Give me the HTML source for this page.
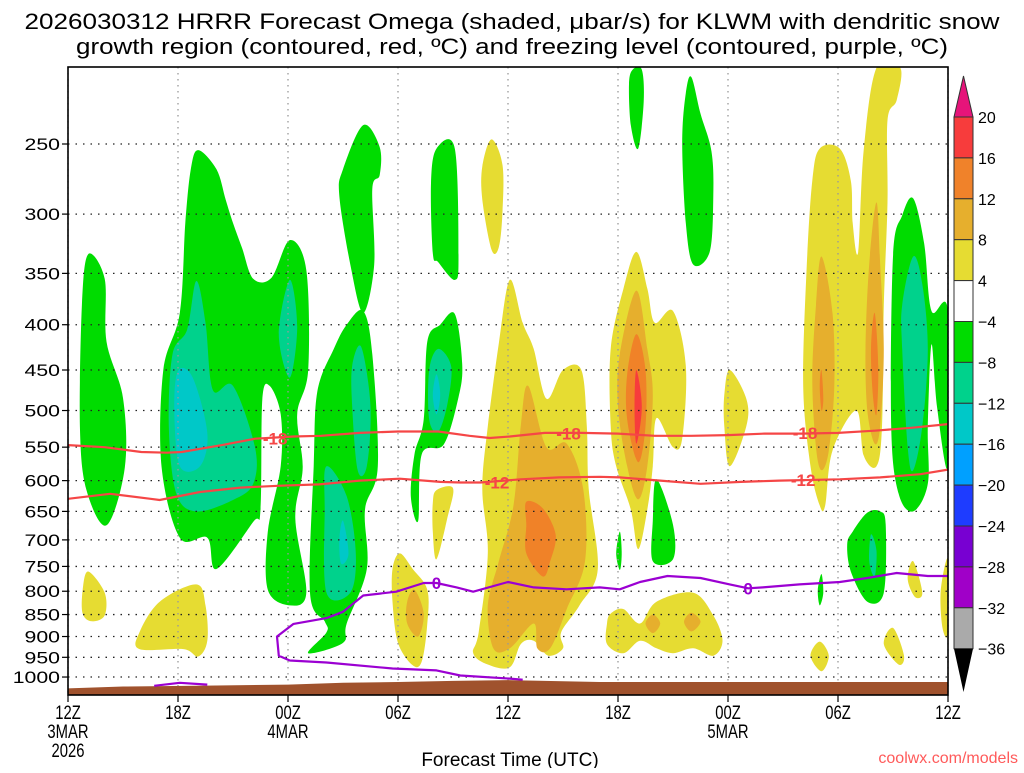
<!DOCTYPE html>
<html><head><meta charset="utf-8">
<style>
html,body{margin:0;padding:0;background:#fff;}
body{width:1024px;height:768px;overflow:hidden;font-family:"Liberation Sans",sans-serif;}
svg text{font-family:"Liberation Sans",sans-serif;}
</style></head>
<body>
<svg id="chart" width="1024" height="768" viewBox="0 0 1024 768" xmlns="http://www.w3.org/2000/svg">
<g id="title">
<text x="512" y="29" text-anchor="middle" font-size="22" fill="#000" textLength="975" lengthAdjust="spacingAndGlyphs">2026030312 HRRR Forecast Omega (shaded, μbar/s) for KLWM with dendritic snow</text>
<text x="512" y="54" text-anchor="middle" font-size="22" fill="#000" textLength="872" lengthAdjust="spacingAndGlyphs">growth region (contoured, red, ºC) and freezing level (contoured, purple, ºC)</text>
</g>
<g id="fills"></g>
<g id="grid"></g>
<g id="terrain"></g>
<g id="lines"></g>
<g id="axes"></g>
<g id="cbar"></g>
<text x="510" y="766" text-anchor="middle" font-size="19" fill="#000">Forecast Time (UTC)</text>
<text x="1018" y="763" text-anchor="end" font-size="16" fill="#ff5a5a">coolwx.com/models</text>
</svg>
<script>
// ---- data ----
const xTickHours = [0,6,12,18,24,30,36,42,48];
const xTickLabels = ["12Z","18Z","00Z","06Z","12Z","18Z","00Z","06Z","12Z"];
const xDateLabels = ["3MAR","","4MAR","","","","5MAR","",""];
const pressureTicks = [250,300,350,400,450,500,550,600,650,700,750,800,850,900,950,1000];
const cbarLabels = ["20","16","12","8","4","-4","-8","-12","-16","-20","-24","-28","-32","-36"];
const cbarColors = ["#f73c3c","#f0822a","#e6af2d","#e6dc32","#ffffff","#00dc00","#00d28c","#00c8c8","#00a0ff","#1e3cff","#7800d2","#a000c8","#aaaaaa"];
const surfaceHours = [0,3,7,12,15,18,21,24,26,29,48];
const surfacePressure = [1030,1025,1023,1020,1015,1013,1010,1008,1010,1013,1013];
const iso18Hours = [0,2,4,5.4,6.2,8.4,10.2,12.3,13.8,15.9,18,20.2,21.9,23,24.1,26,28,30,32,34,36,38,40,42,44,46,48];
const iso18Press = [547,550,557,558,557,547,538,535,534,530,528,528,534,537,535,530,530,531,534,534,533,531,531,530,527,523,518];
const iso12Hours = [0,2.3,4.5,5.0,7.2,9.4,11.6,13.7,15.9,18.1,20.3,21.4,22.5,24.7,26.8,29.0,30.1,32.3,34.5,36.7,38.8,42.1,44.3,46.5,48];
const iso12Press = [629,621,629,631,618,611,608,606,600,597,602,603,603,598,595,594,595,600,605,602,600,598,595,590,583];
const zeroHours = [48,46.9,45.2,43.6,42.1,39.9,37.9,37.1,36.1,34.5,32.7,31.2,30.1,29.0,27.2,25.4,24.0,22.1,21.2,20.1,19.4,17.9,16.1,15.0,14.1,12.3,11.4,11.5,12.1,14.1,17.7,20.1,21.4,24.1,24.8];
const zeroPress = [769,769,763,773,781,786,792,794,786,773,769,781,796,792,796,792,781,801,792,783,783,801,809,844,858,871,900,946,958,963,978,983,996,1004,1007];
const zeroSmallHours = [4.7,6.1,7.6];
const zeroSmallPress = [1023,1015,1020];
// shaded omega regions: [hour, hPa] outlines, with level colour class
const G="#00dc00",T="#00d28c",C="#00c8c8",Y="#e6dc32",O="#e6af2d",R="#f08228",RR="#f73c3c";
const shapes = [
 [G,[[1.1,333],[2.0,355],[2.1,418],[3.0,484],[3.1,580],[2.1,674],[1.0,614],[0.65,521],[0.76,380]]],
 [G,[[7.1,254],[8.1,267],[8.6,289],[9.0,307],[9.5,328],[10.1,355],[11.1,354],[12.1,321],[13.0,347],[13.1,450],[12.5,505],[12.8,580],[12.4,662],[13.0,803],[12.1,830],[10.9,797],[10.9,685],[11.6,578],[11.6,505],[11.0,469],[10.6,486],[10.5,647],[10.1,668],[8.1,755],[7.6,696],[6.1,696],[5.1,578],[5.2,450],[6.1,388],[6.4,307],[6.7,267]]],
 [G,[[16.1,238],[17.0,252],[17.0,271],[16.6,281],[16.7,342],[16.1,388],[15.4,342],[14.8,286],[15.0,267]]],
 [G,[[16.1,386],[16.6,432],[16.9,578],[16.2,647],[16.3,755],[15.2,870],[15.0,915],[13.1,940],[14.1,890],[14.0,865],[13.2,803],[13.4,578],[13.6,476],[14.5,426],[15.2,400]]],
 [G,[[20.1,253],[21.1,253],[21.3,335],[21.1,356],[20.2,340],[19.9,332],[19.8,277]]],
 [G,[[21.1,389],[21.5,443],[21.3,483],[20.5,546],[19.3,560],[19.1,666],[18.7,625],[18.9,560],[19.4,512],[19.6,418],[20.3,400]]],
 [G,[[30.8,206],[31.3,206],[31.4,224],[31.1,253],[30.7,238],[30.6,214]]],
 [G,[[34.0,210],[34.5,231],[35.1,255],[35.2,286],[35.0,331],[34.1,342],[33.7,307],[33.5,249],[33.7,219]]],
 [G,[[32.1,598],[33.0,673],[33.0,736],[31.9,740],[31.9,666]]],
 [G,[[30.1,685],[30.2,725],[30.1,757],[29.9,725]]],
 [G,[[46.1,288],[46.7,324],[47.1,386],[48,386],[48,578],[47.4,495],[47.1,421],[46.9,521],[46.9,605],[46.1,650],[45.3,620],[44.9,521],[45.0,335],[45.5,301]]],
 [G,[[43.6,652],[44.3,650],[44.6,673],[44.5,803],[43.6,822],[42.7,760],[42.5,708],[42.8,685]]],
 [G,[[41.1,765],[41.2,803],[41.0,830],[40.9,797]]],
 [T,[[7.0,357],[7.5,398],[7.9,474],[9.0,469],[10.2,550],[10.1,605],[9.0,631],[7.0,650],[5.9,620],[5.5,521],[5.7,432],[6.5,405]]],
 [T,[[12.1,356],[12.5,402],[12.1,459],[11.5,410]]],
 [T,[[16.0,424],[16.5,495],[16.3,578],[15.8,584],[15.5,495],[15.5,445]]],
 [T,[[14.1,578],[15.2,625],[15.7,725],[15.4,803],[14.1,803],[14.0,647]]],
 [T,[[20.2,426],[20.9,446],[20.7,491],[20.2,528],[19.7,512],[19.7,450]]],
 [T,[[46.1,335],[46.6,360],[46.9,426],[46.6,521],[46.1,584],[45.8,550],[45.5,426],[45.5,380]]],
 [T,[[43.8,690],[44.1,720],[44.0,770],[43.7,740]]],
 [C,[[6.0,451],[6.8,459],[7.6,530],[7.2,578],[6.1,578],[5.8,500]]],
 [C,[[15.0,666],[15.3,725],[14.9,745],[14.8,700]]],
 [C,[[20.1,455],[20.3,480],[20.1,505],[19.9,480]]],
 [Y,[[1.1,760],[2.0,803],[2.0,852],[1.3,865],[0.8,848],[0.8,797]]],
 [Y,[[7.0,786],[7.5,830],[7.6,910],[7.1,948],[6.3,930],[3.9,930],[3.9,890],[5.0,822]]],
 [Y,[[20.1,615],[21.0,612],[20.7,660],[20.1,736],[19.9,685],[19.9,636]]],
 [Y,[[18.1,725],[18.8,755],[19.6,797],[19.6,870],[19.3,960],[18.8,970],[18.0,915],[17.7,822],[17.7,755]]],
 [Y,[[23.1,247],[23.7,264],[23.7,298],[23.5,327],[23.1,329],[22.6,289],[22.6,265]]],
 [Y,[[24.1,356],[24.8,398],[25.4,426],[26.1,485],[27.0,450],[28.0,450],[28.3,521],[28.4,613],[28.9,755],[27.9,830],[26.9,890],[27.0,928],[26.2,946],[25.4,910],[24.7,918],[24.1,975],[22.9,968],[22.1,940],[22.4,890],[22.9,725],[22.6,613],[22.9,521],[23.5,420]]],
 [Y,[[31.0,331],[31.6,364],[32.0,398],[33.0,386],[33.7,445],[33.5,538],[33.0,550],[32.1,510],[31.9,578],[31.6,647],[31.1,717],[30.7,647],[29.9,578],[29.6,521],[29.6,426],[30.3,364]]],
 [Y,[[29.6,848],[30.3,838],[31.2,870],[32.1,822],[34.1,803],[35.2,852],[35.7,910],[35.2,946],[34.1,928],[33.0,940],[32.1,928],[31.2,910],[30.3,940],[29.4,918],[29.4,870]]],
 [Y,[[36.1,450],[37.0,485],[37.0,521],[36.1,578],[35.8,521],[35.8,480]]],
 [Y,[[41.0,253],[42.1,253],[42.7,275],[42.8,307],[43.1,331],[43.4,254],[44.1,205],[45.4,205],[45.2,223],[44.7,235],[44.7,291],[44.5,380],[44.4,521],[44.1,578],[43.4,562],[43.0,500],[41.7,555],[41.3,640],[41.0,640],[40.5,578],[40.1,469],[40.3,342],[40.6,275]]],
 [Y,[[46.1,740],[46.6,803],[46.2,812],[45.8,775]]],
 [Y,[[41.0,912],[41.5,946],[41.1,985],[40.5,946]]],
 [Y,[[45.0,880],[45.6,946],[45.3,968],[44.5,918]]],
 [Y,[[48,736],[48,890],[47.7,880],[47.6,800]]],
 [O,[[25.1,469],[26.1,550],[27.2,545],[28.1,613],[28.2,740],[27.2,838],[26.3,928],[25.6,928],[25.4,870],[24.1,928],[23.2,928],[22.9,830],[23.5,740],[24.3,640],[24.7,520]]],
 [O,[[18.9,797],[19.4,848],[19.1,900],[18.5,870],[18.5,822]]],
 [O,[[31.0,366],[31.6,426],[31.9,481],[31.6,578],[31.1,630],[30.5,578],[30.0,495],[30.1,432]]],
 [O,[[31.9,850],[32.3,870],[31.9,892],[31.5,870]]],
 [O,[[34.0,846],[34.5,866],[34.0,888],[33.6,866]]],
 [O,[[41.1,335],[41.7,388],[41.8,469],[41.5,555],[41.1,584],[40.8,550],[40.6,460],[40.8,380]]],
 [O,[[44.1,291],[44.3,342],[44.5,426],[44.3,521],[44.0,545],[43.6,500],[43.5,426],[43.7,342]]],
 [R,[[25.0,634],[25.9,645],[26.6,691],[26.3,740],[25.9,770],[25.0,725],[25.0,673]]],
 [R,[[31.0,410],[31.5,450],[31.5,521],[31.1,572],[30.5,512],[30.5,455]]],
 [R,[[41.1,450],[41.2,485],[41.1,500],[41.0,469]]],
 [R,[[44.0,388],[44.2,445],[44.1,505],[43.9,480],[43.8,426]]],
 [RR,[[31.0,450],[31.3,495],[31.0,545],[30.9,495]]]
];
// ---- axes ----
const X0=68,X1=948,Y0=67,Y1=695;
function xs(h){return X0+(X1-X0)*h/48;}
function ys(p){return 144+(Math.log(p)-Math.log(250))*384.5;}
const NS="http://www.w3.org/2000/svg";
function mk(tag,attrs,parent){const e=document.createElementNS(NS,tag);for(const k in attrs)e.setAttribute(k,attrs[k]);parent.appendChild(e);return e;}
function smooth(pts){
 const n=pts.length;let d="M"+pts[0][0].toFixed(1)+","+pts[0][1].toFixed(1);
 for(let i=0;i<n;i++){const p0=pts[(i-1+n)%n],p1=pts[i],p2=pts[(i+1)%n],p3=pts[(i+2)%n];
  const c1=[p1[0]+(p2[0]-p0[0])/6,p1[1]+(p2[1]-p0[1])/6],c2=[p2[0]-(p3[0]-p1[0])/6,p2[1]-(p3[1]-p1[1])/6];
  d+="C"+c1[0].toFixed(1)+","+c1[1].toFixed(1)+" "+c2[0].toFixed(1)+","+c2[1].toFixed(1)+" "+p2[0].toFixed(1)+","+p2[1].toFixed(1);}
 return d+"Z";
}
const svg=document.getElementById('chart');
mk('clipPath',{id:'plotclip'},svg).appendChild(document.createElementNS(NS,'rect'));
const cr=svg.querySelector('#plotclip rect');cr.setAttribute('x',X0);cr.setAttribute('y',Y0);cr.setAttribute('width',X1-X0);cr.setAttribute('height',Y1-Y0);
const fills=document.getElementById('fills');fills.setAttribute('clip-path','url(#plotclip)');
shapes.forEach((s,i)=>{
 const el=mk('path',{d:smooth(s[1].map(q=>[xs(q[0]),ys(q[1])])),fill:s[0]},fills);
 
 
});
// grid
const grid=document.getElementById('grid');
xTickHours.forEach(h=>{
 const el=mk('line',{x1:xs(h),x2:xs(h),y1:Y0,y2:Y1,stroke:'#999','stroke-width':1.3,'stroke-dasharray':'1.5,4.5'},grid);
 
 
});
pressureTicks.forEach(p=>{
 const el=mk('line',{x1:X0,x2:X1,y1:ys(p),y2:ys(p),stroke:'#222','stroke-width':1.3,'stroke-dasharray':'1.5,6'},grid);
 
 
});
// terrain
const ter=document.getElementById('terrain');
let td="M"+xs(0)+","+Y1;
surfaceHours.forEach((h,i)=>{td+=" L"+xs(h).toFixed(1)+","+ys(surfacePressure[i]).toFixed(1);});
td+=" L"+xs(48)+","+Y1+"Z";
const tp=mk('path',{d:td,fill:'#a0522d'},ter);


// lines
const lines=document.getElementById('lines');lines.setAttribute('clip-path','url(#plotclip)');
function polyline(hs,ps,color,name){
 const d=hs.map((h,i)=>(i?"L":"M")+xs(h).toFixed(1)+","+ys(ps[i]).toFixed(1)).join(" ");
 const el=mk('path',{d:d,fill:'none',stroke:color,'stroke-width':2.2,'stroke-linejoin':'round'},lines);
 
 
}
polyline(iso18Hours,iso18Press,'#f54646','isotherm-minus18');
polyline(iso12Hours,iso12Press,'#f54646','isotherm-minus12');
polyline(zeroHours,zeroPress,'#9b00d2','freezing-level');
polyline(zeroSmallHours,zeroSmallPress,'#9b00d2','freezing-level-small');
function lab(h,p,t,color){
 const el=mk('text',{x:xs(h),y:ys(p)+6,'text-anchor':'middle','font-size':17,'font-weight':'bold',fill:color},lines);
 el.textContent=t;
 
 
}
lab(11.3,538,"-18","#f54646");lab(27.3,531,"-18","#f54646");lab(40.2,530,"-18","#f54646");
lab(23.4,603,"-12","#f54646");lab(40.1,599,"-12","#f54646");
lab(20.1,783,"0","#9b00d2");lab(37.1,794,"0","#9b00d2");
// axes
const ax=document.getElementById('axes');
const fr=mk('rect',{x:X0,y:Y0,width:X1-X0,height:Y1-Y0,fill:'none',stroke:'#000','stroke-width':1.6},ax);


pressureTicks.forEach(p=>{
 mk('line',{x1:X0-6,x2:X0,y1:ys(p),y2:ys(p),stroke:'#000','stroke-width':1.2},ax);
 const t=mk('text',{x:60,y:ys(p)+6,'text-anchor':'end','font-size':17,fill:'#000',transform:'translate(60,0) scale(1.25,1) translate(-60,0)'},ax);
 t.textContent=String(p);
 
 
});
const sx='scale(0.78,1)';
xTickHours.forEach((h,i)=>{
 mk('line',{x1:xs(h),x2:xs(h),y1:Y1,y2:Y1+7,stroke:'#000','stroke-width':1.2},ax);
 const t=mk('text',{x:xs(h),y:719,'text-anchor':'middle','font-size':19,fill:'#000',transform:'translate('+xs(h)+',0) '+sx+' translate('+(-xs(h))+',0)'},ax);
 t.textContent=xTickLabels[i];
 
 
 if(xDateLabels[i]){
  const d=mk('text',{x:xs(h),y:738,'text-anchor':'middle','font-size':19,fill:'#000',transform:'translate('+xs(h)+',0) '+sx+' translate('+(-xs(h))+',0)'},ax);
  d.textContent=xDateLabels[i];
  
  
 }
});
const yr=mk('text',{x:xs(0),y:757,'text-anchor':'middle','font-size':19,fill:'#000',transform:'translate('+xs(0)+',0) '+sx+' translate('+(-xs(0))+',0)'},ax);
yr.textContent="2026";


// colorbar
const cb=document.getElementById('cbar');
const CX0=954,CX1=973,CT=117,BH=40.9;
const tt=mk('path',{d:`M${CX0},${CT} L${(CX0+CX1)/2},76 L${CX1},${CT}Z`,fill:'#e6147a',stroke:'#333','stroke-width':1},cb);


cbarColors.forEach((c,i)=>{
 const r=mk('rect',{x:CX0,y:CT+i*BH,width:CX1-CX0,height:BH,fill:c,stroke:'#333','stroke-width':1},cb);
 
 
});
const bt=CT+cbarColors.length*BH;
const ba=mk('path',{d:`M${CX0},${bt} L${(CX0+CX1)/2},692 L${CX1},${bt}Z`,fill:'#000'},cb);


cbarLabels.forEach((l,i)=>{
 const t=mk('text',{x:978,y:CT+i*BH+6,'font-size':16,fill:'#000'},cb);
 t.textContent=l.replace('-','−');
 
 
});
</script>
</body></html>
